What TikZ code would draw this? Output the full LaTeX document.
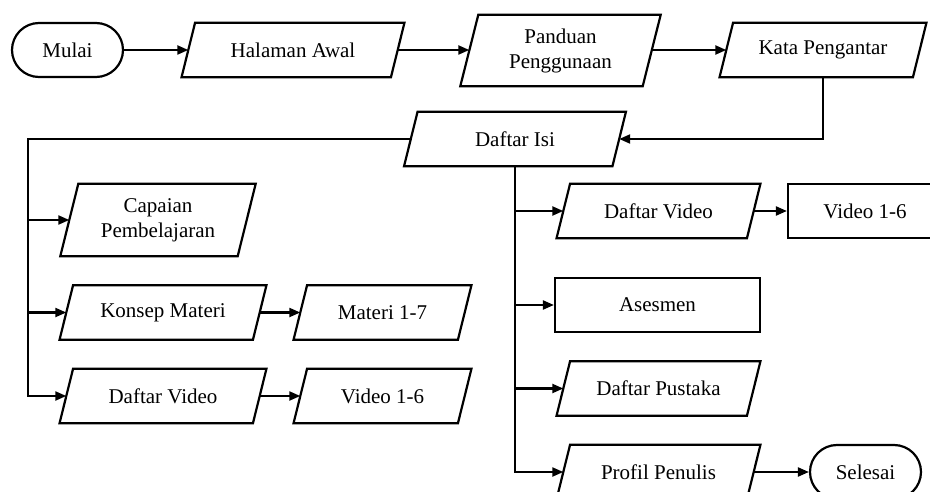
\documentclass[tikz,border=0pt]{standalone}
\usepackage{fontspec}
\setmainfont{Liberation Serif}
\usetikzlibrary{arrows.meta}
\tikzset{
  txt/.style={inner sep=0pt, align=center, minimum height=54pt,
    font=\fontsize{21}{25}\selectfont},
  terminal/.style={txt, draw, line width=2.2pt, rounded corners=27pt},
  rectbox/.style={txt, draw, line width=2.2pt},
  outline/.style={line width=2.2pt, line join=miter},
  link/.style={line width=2.2pt},
  arr/.style={link, -{Triangle[length=11pt,width=9pt]}}
}
\begin{document}
\begin{tikzpicture}[x=1pt, y=-1pt]
  \useasboundingbox (0,0) rectangle (930,492);
  \fill[white] (0,0) rectangle (930,492);
  \clip (0,0) rectangle (930,492);

  % top row
  \node[terminal, minimum width=111pt] (mulai) at (67.5,50) {Mulai};
  \node[txt, minimum width=209pt] (halaman) at (293,50) {Halaman Awal};
  \node[txt, minimum width=182pt, minimum height=71pt] (panduan) at (560.5,50.5) {Panduan\\Penggunaan};
  \node[txt, minimum width=193pt] (kata) at (823,50) {Kata Pengantar};

  % table of contents
  \node[txt, minimum width=208pt] (isi) at (515,139) {Daftar Isi};

  % left branch
  \node[txt, minimum width=177pt, minimum height=72pt] (capaian) at (158,220) {Capaian\\Pembelajaran};
  \node[txt, minimum width=193pt] (konsep) at (163,312.5) {Konsep Materi};
  \node[txt, minimum width=193pt] (dvleft) at (163,396) {Daftar Video};
  \node[txt, minimum width=164pt] (materi) at (382.5,312.5) {Materi 1-7};
  \node[txt, minimum width=164pt] (vleft) at (382.5,396) {Video 1-6};

  % right branch
  \node[txt, minimum width=190pt] (dvright) at (658.5,211) {Daftar Video};
  \node[rectbox, minimum width=154pt] (vright) at (865,211) {Video 1-6};
  \node[rectbox, minimum width=205pt] (asesmen) at (657.5,305) {Asesmen};
  \node[txt, minimum width=190pt] (pustaka) at (658.5,388.5) {Daftar Pustaka};
  \node[txt, minimum width=190pt] (profil) at (658.5,472) {Profil Penulis};
  \node[terminal, minimum width=111pt] (selesai) at (865.5,472) {Selesai};

  % parallelogram outlines (name / half slant)
  \foreach \n/\s in {halaman/6.75, panduan/9, kata/6.75, isi/6.75,
                     capaian/9, konsep/6.75, dvleft/6.75, materi/6.75,
                     vleft/6.75, dvright/6.75, pustaka/6.75, profil/6.75}
    \draw[outline] ([xshift=\s pt]\n.north west) -- ([xshift=\s pt]\n.north east)
      -- ([xshift=-\s pt]\n.south east) -- ([xshift=-\s pt]\n.south west) -- cycle;

  \coordinate (lbus) at (28,0);

  % connectors
  \draw[arr] (mulai.east) -- (halaman.west);
  \draw[arr] (halaman.east) -- (panduan.west |- halaman.east);
  \draw[arr] (panduan.east |- kata.west) -- (kata.west);
  \draw[arr] (kata.south) |- (isi.east);

  \draw[arr] (isi.west) -| (lbus |- dvleft.west) -- (dvleft.west);
  \draw[arr] (lbus |- capaian.west) -- (capaian.west);
  \draw[arr] (lbus |- konsep.west) -- (konsep.west);
  \draw[arr] (konsep.east) -- (materi.west);
  \draw[arr] (dvleft.east) -- (vleft.west);

  \draw[arr] (isi.south) |- (profil.west);
  \draw[arr] (isi.south |- dvright.west) -- (dvright.west);
  \draw[arr] (isi.south |- asesmen.west) -- (asesmen.west);
  \draw[arr] (isi.south |- pustaka.west) -- (pustaka.west);
  \draw[arr] (dvright.east) -- (vright.west);
  \draw[arr] (profil.east) -- (selesai.west);
\end{tikzpicture}
\end{document}
